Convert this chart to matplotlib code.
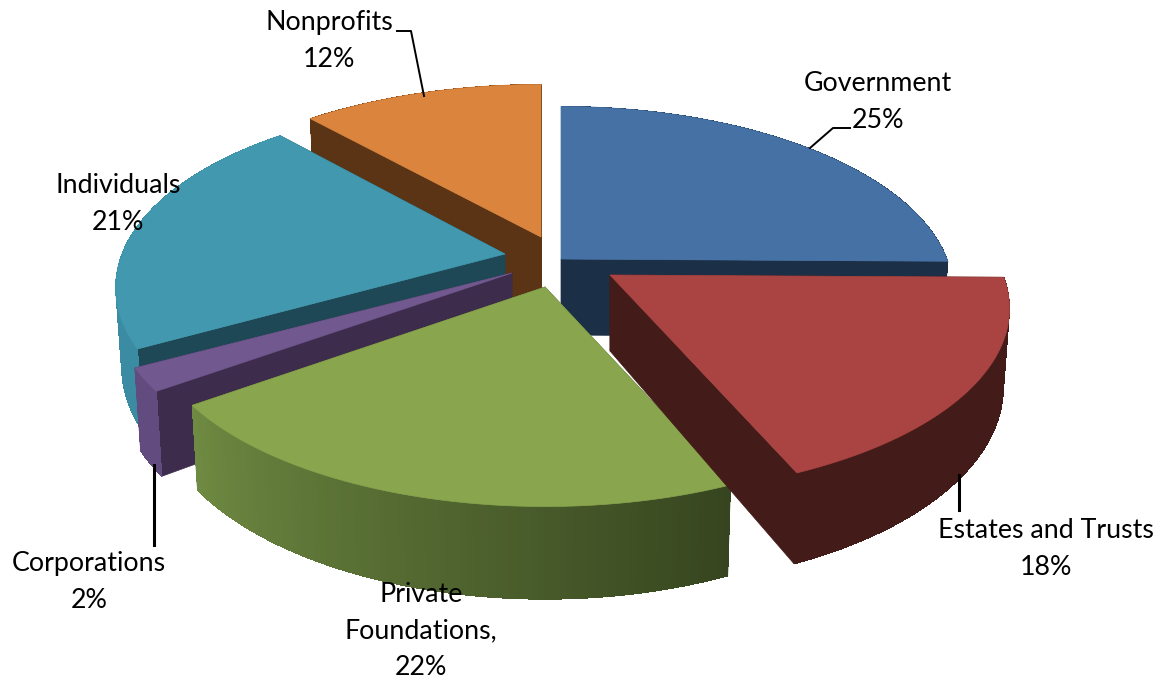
import numpy as np
import matplotlib
matplotlib.use('Agg')
import matplotlib.pyplot as plt
from matplotlib.colors import to_rgb

# chart data
sectors = ['Government', 'Estates and Trusts', 'Private\nFoundations,', 'Corporations', 'Individuals', 'Nonprofits']
shares = [25.2, 18.3, 21.5, 2.0, 21.4, 11.6]

# look of each slice, same order as sectors
top_colors = ['#4671a5', '#a94442', '#89a54e', '#71588f', '#4198af', '#db843d']
cut_colors = ['#1b2f47', '#431b18', '#3a4a20', '#3d2c4b', '#1e4855', '#5a3415']
wall_start = ['#1b2f47', '#431b18', '#36451f', '#624c7f', '#3b8ca2', '#5a3415']
wall_end = ['#1b2f47', '#431b18', '#6f8a42', '#624c7f', '#3b8ca2', '#5a3415']
apex_x = [561, 610, 545, 512, 505, 541]
apex_y = [259, 275, 287, 273, 254, 237]
radius_x = [386, 393, 390, 393, 383, 393]
draw_order = [0, 5, 4, 3, 2, 1]

# perspective of the pie
RY = 180
PERSP = 0.18
DEPTH = 76
CONVERGE = 0.0002


def project(i, ang, depth=0.0):
    u = np.sin(ang)
    v = np.cos(ang)
    s = 1 / (1 + PERSP * v)
    x = apex_x[i] + radius_x[i] * u * s * (1 - depth * CONVERGE)
    y = apex_y[i] - RY * v * s + depth * s
    return x, y


fig = plt.figure(figsize=(11.6, 6.79), dpi=100)
ax = fig.add_axes([0, 0, 1, 1])
ax.set_xlim(0, 1160)
ax.set_ylim(679, 0)
ax.axis('off')

fractions = np.array(shares) / sum(shares)
ends = np.cumsum(fractions) * 2 * np.pi
starts = ends - fractions * 2 * np.pi

for i in draw_order:
    z = 10 + draw_order.index(i)
    angs = np.linspace(starts[i], ends[i], 90)
    ax0, ay0 = apex_x[i], apex_y[i]

    # the two cut faces
    for a in (starts[i], ends[i]):
        xa, ya = project(i, a)
        xd, yd = project(i, a, DEPTH)
        ax.fill([ax0, xa, xd, ax0], [ay0, ya, yd, ay0 + DEPTH], color=cut_colors[i], lw=0.5, zorder=z)

    # outer wall, small quads so it can carry a gradient
    c0 = np.array(to_rgb(wall_start[i]))
    c1 = np.array(to_rgb(wall_end[i]))
    for k in range(len(angs) - 1):
        t = k / (len(angs) - 2)
        col = c0 + (c1 - c0) * t
        xa, ya = project(i, angs[k])
        xb, yb = project(i, angs[k + 1])
        xc, yc = project(i, angs[k + 1], DEPTH)
        xd, yd = project(i, angs[k], DEPTH)
        ax.fill([xa, xb, xc, xd], [ya, yb, yc, yd], color=col, lw=0, antialiased=False, zorder=z)

    # top face
    xs, ys = project(i, angs)
    ax.fill(np.r_[ax0, xs], np.r_[ay0, ys], color=top_colors[i], lw=0.5, zorder=z)

# labels
label_x = [878, 1046, 421, 89, 118, 329]
label_y = [102, 549, 631, 582, 204, 41]
for i, name in enumerate(sectors):
    ax.text(label_x[i], label_y[i], '%s\n%d%%' % (name, round(shares[i])), ha='center', va='center',
            family='Lato', fontsize=19.3, color='black', linespacing=1.56, zorder=30)

# leader lines
ax.plot([810, 833, 850], [148, 128, 128], color='black', lw=1.4, zorder=25)
ax.plot([424, 411, 397], [96, 31, 31], color='black', lw=1.4, zorder=25)
ax.plot([959, 959], [475, 510], color='black', lw=2.2, zorder=25)
ax.plot([154, 154], [465, 545], color='black', lw=2.2, zorder=25)

fig.savefig('out.png', dpi=100, facecolor='white')
